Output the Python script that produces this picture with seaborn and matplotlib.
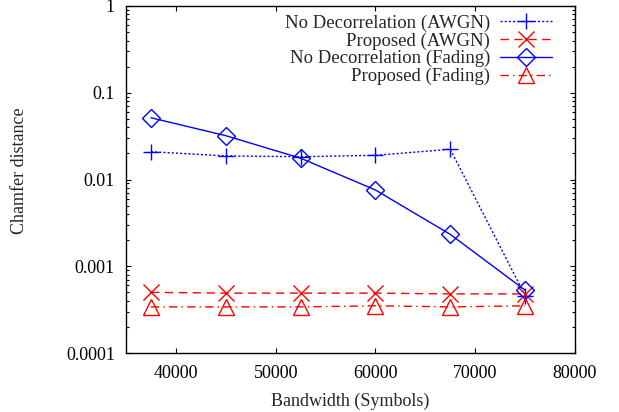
import matplotlib.pyplot as plt
import matplotlib.ticker as mticker
import pandas as pd
import seaborn as sns

# Data
bandwidth = [37500, 45000, 52500, 60000, 67500, 75000]
nodecor_awgn = [0.0209, 0.0187, 0.0183, 0.0190, 0.0223, 0.00046]
proposed_awgn = [0.00050, 0.00049, 0.00049, 0.00049, 0.00048, 0.00048]
nodecor_fading = [0.0515, 0.0320, 0.0176, 0.00757, 0.00233, 0.00053]
proposed_fading = [0.00034, 0.00034, 0.00034, 0.00035, 0.00034, 0.00035]

series_labels = [
    "No Decorrelation (AWGN)",
    "Proposed (AWGN)",
    "No Decorrelation (Fading)",
    "Proposed (Fading)",
]
yticks = [1, 0.1, 0.01, 0.001, 0.0001]
ytick_labels = ["1", "0.1", "0.01", "0.001", "0.0001"]
xticks = [40000, 50000, 60000, 70000, 80000]

sns.set_style("ticks")
plt.rcParams["font.family"] = ["Liberation Serif", "DejaVu Serif"]

FS = 13
LEG_FS = 13.5

df = pd.DataFrame({"bandwidth": bandwidth})
values = [nodecor_awgn, proposed_awgn, nodecor_fading, proposed_fading]
styles = [
    dict(color="#0000ff", linestyle=(0, (1.5, 1.5)), marker="+", markersize=12),
    dict(color="#ff0000", linestyle=(0, (6, 4)), marker="x", markersize=11),
    dict(color="#0000ff", linestyle="-", marker="D", markersize=9),
    dict(color="#ff0000", linestyle=(0, (6, 3, 1, 3)), marker="^", markersize=11),
]

fig = plt.figure(figsize=(6.19, 4.12), dpi=100)
ax = fig.add_axes([126 / 619, 59 / 412, 449 / 619, 347 / 412])

for label, vals, st in zip(series_labels, values, styles):
    df["value"] = vals
    sns.lineplot(
        data=df,
        x="bandwidth",
        y="value",
        ax=ax,
        label=label,
        linewidth=1.0,
        markerfacecolor="none",
        markeredgecolor=st["color"],
        markeredgewidth=1.0,
        **st,
    )

ax.set_yscale("log")
ax.set_ylim(0.0001, 1)
ax.set_xlim(35000, 80000)
ax.set_yticks(yticks)
ax.set_yticklabels(ytick_labels)
ax.yaxis.set_minor_locator(mticker.LogLocator(base=10, subs=range(2, 10)))
ax.yaxis.set_minor_formatter(mticker.NullFormatter())
ax.set_xticks(xticks)
ax.set_xticklabels([str(v) for v in xticks])

ax.tick_params(which="both", direction="in", top=True, right=True,
               labelsize=FS, width=0.8, colors="black")
ax.tick_params(which="major", length=3.5, pad=8)
ax.tick_params(axis="x", which="major", pad=8.5)
ax.tick_params(which="minor", length=2)
for side in ax.spines.values():
    side.set_linewidth(1.0)
    side.set_color("black")

ax.set_xlabel("Bandwidth (Symbols)", fontsize=FS, labelpad=8)
ax.set_ylabel("Chamfer distance", fontsize=FS)
ax.yaxis.set_label_coords(-0.218, 0.524)

ax.legend(
    loc="upper right",
    bbox_to_anchor=(426 / 449, 0.976),
    frameon=False,
    markerfirst=False,
    fontsize=LEG_FS,
    handlelength=2.8,
    handletextpad=0.5,
    labelspacing=0.03,
    borderpad=0,
    borderaxespad=0,
)

fig.savefig("out.png", dpi=100)
